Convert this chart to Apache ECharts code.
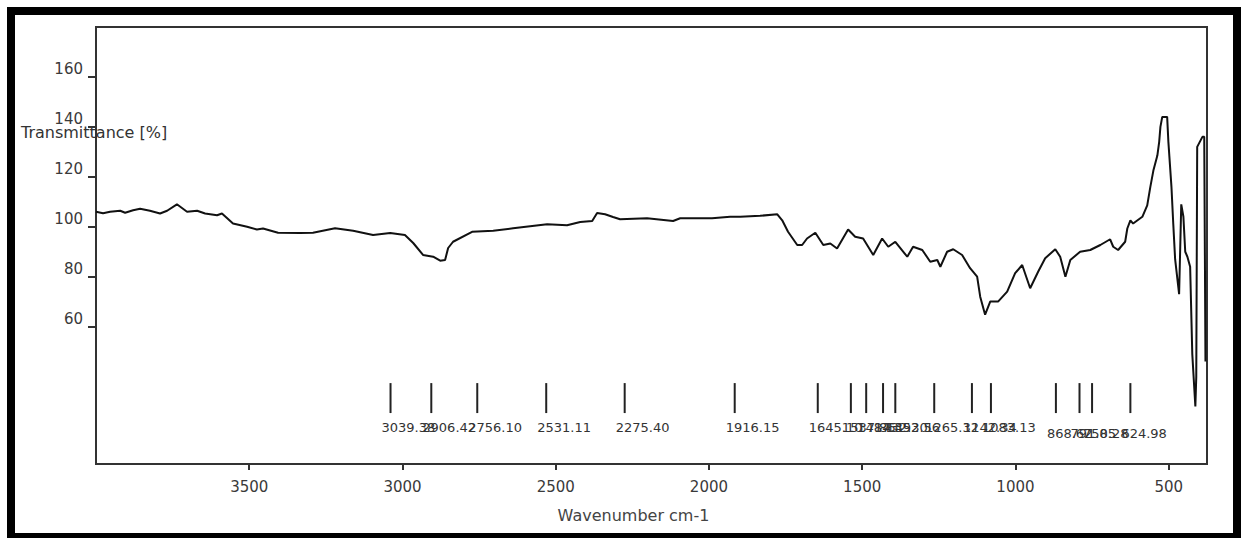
<!DOCTYPE html>
<html>
<head>
<meta charset="utf-8">
<script src="https://cdn.jsdelivr.net/npm/echarts@6/dist/echarts.min.js"></script>
<style>
  html, body { margin: 0; padding: 0; background: #fff; }
  #chart { width: 1241px; height: 538px; }
</style>
</head>
<body>
<div id="chart"></div>
<script>
// IR spectrum values (wavenumber in cm-1, transmittance in %)
const wavenumbers = [
  4000, 3977, 3954, 3921, 3905, 3879, 3856, 3824, 3791, 3768, 3736, 3703, 3670, 3644, 3605, 3589,
  3553, 3507, 3475, 3455, 3406, 3334, 3292, 3220, 3161, 3096, 3040, 2992, 2965, 2933, 2900, 2877,
  2861, 2851, 2835, 2773, 2704, 2639, 2528, 2463, 2420, 2381, 2365, 2339, 2313, 2290, 2202, 2117,
  2094, 1990, 1931, 1898, 1833, 1777, 1761, 1742, 1712, 1696, 1680, 1653, 1627, 1604, 1582, 1546,
  1523, 1497, 1464, 1435, 1415, 1392, 1353, 1334, 1304, 1278, 1255, 1245, 1223, 1203, 1174, 1148,
  1125, 1115, 1099, 1082, 1056, 1027, 1001, 978, 952, 926, 903, 870, 854, 837, 821, 789,
  756, 723, 691, 681, 665, 642, 635, 625, 616, 586, 570, 560, 550, 537, 531, 527,
  521, 511, 505, 501, 491, 485, 479, 466, 459, 452, 446, 439, 430, 423, 413, 410,
  407, 390, 384, 380
]
const transmittance = [
  106, 105.4, 106, 106.4, 105.6, 106.6, 107.2, 106.4, 105.3, 106.4, 109, 106, 106.4, 105.3, 104.6, 105.3,
  101.3, 100, 98.9, 99.3, 97.6, 97.5, 97.6, 99.4, 98.4, 96.7, 97.5, 96.7, 93.5, 88.7, 88, 86.4,
  86.7, 91.5, 94, 98, 98.4, 99.4, 101, 100.6, 101.9, 102.3, 105.5, 105, 103.9, 103, 103.4, 102.3,
  103.4, 103.4, 104, 104, 104.4, 105, 102.6, 98, 92.7, 92.7, 95.3, 97.6, 92.7, 93.3, 91.3, 98.9,
  96, 95.3, 88.7, 95.3, 92, 94, 88, 92, 90.7, 86, 86.7, 84, 90, 91, 88.7, 83.4,
  80, 72, 64.8, 70.1, 70.1, 74, 81.4, 84.7, 75.4, 82, 87.4, 91, 88, 80, 86.7, 90,
  90.7, 92.7, 95, 92, 90.7, 94, 99.3, 102.6, 101.3, 104, 108.6, 115.9, 122.5, 128.5, 134, 140,
  144, 144, 144, 134, 116, 101, 87, 73, 109, 104, 90, 88, 84, 49, 28, 40,
  132, 136, 136, 46
]

// picked peaks and their printed labels
const peakWavenumbers = [3039, 2906, 2756, 2531, 2275, 1916, 1645, 1537, 1487, 1432, 1392, 1265, 1142, 1080, 868, 791, 750, 625]
const peakLabels = [
  '3039.38', '2906.42', '2756.10', '2531.11', '2275.40', '1916.15',
  '1645.10', '1537.86', '1487.45', '1432.30', '1392.56', '1265.32', '1142.34', '1083.13',
  '868.62', '791.85', '750.28', '624.98'
]

const xTicks = [3500, 3000, 2500, 2000, 1500, 1000, 500]
const yTicks = [60, 80, 100, 120, 140, 160]

const chart = echarts.init(document.getElementById('chart'), null, { renderer: 'svg' })

const font = 'DejaVu Sans'
const markTop = 37.4
const markBottom = 25.4

chart.setOption({
  animation: false,
  backgroundColor: '#fff',
  grid: {
    left: 96,
    right: 34,
    top: 27,
    bottom: 74,
    show: true,
    borderColor: '#333',
    borderWidth: 2
  },
  xAxis: {
    type: 'value',
    inverse: true,
    min: 375,
    max: 4000,
    axisLine: { show: false },
    splitLine: { show: false },
    axisTick: { customValues: xTicks, length: 6, lineStyle: { color: '#333', width: 2 } },
    axisLabel: {
      customValues: xTicks,
      margin: 15,
      color: '#3a3a3a',
      fontSize: 15,
      fontFamily: font,
      formatter: v => String(v)
    },
    name: 'Wavenumber cm-1',
    nameLocation: 'middle',
    nameGap: 43,
    nameTextStyle: { color: '#444', fontSize: 16, fontFamily: font, padding: [0, 36, 0, 0] }
  },
  yAxis: {
    type: 'value',
    min: 5,
    max: 180,
    axisLine: { show: false },
    splitLine: { show: false },
    axisTick: { customValues: yTicks, length: 8, lineStyle: { color: '#333', width: 2 } },
    axisLabel: {
      customValues: yTicks,
      margin: 13,
      color: '#3a3a3a',
      fontSize: 15,
      fontFamily: font,
      verticalAlign: 'bottom'
    }
  },
  graphic: [
    {
      type: 'text',
      left: 21,
      top: 124,
      z: 10,
      style: { text: 'Transmittance [%]', fill: '#333', fontSize: 16, fontFamily: font }
    },
    {
      type: 'rect',
      z: 20,
      shape: { x: 11, y: 11, width: 1226, height: 526 },
      style: { fill: 'none', stroke: '#000', lineWidth: 8 }
    }
  ],
  series: [
    {
      type: 'line',
      data: wavenumbers.map((w, i) => [w, transmittance[i]]),
      showSymbol: false,
      lineStyle: { color: '#111', width: 2 },
      clip: false
    },
    {
      type: 'custom',
      data: peakWavenumbers.map(w => [w, markTop]),
      encode: { x: 0, y: 1 },
      clip: false,
      renderItem: function (params, api) {
        const v = api.value(0)
        const top = api.coord([v, markTop])
        const bottom = api.coord([v, markBottom])
        const lowRow = v < 900
        return {
          type: 'group',
          children: [
            {
              type: 'line',
              shape: { x1: top[0], y1: top[1], x2: bottom[0], y2: bottom[1] },
              style: { stroke: '#222', lineWidth: 2 }
            },
            {
              type: 'text',
              x: top[0] - 9,
              y: bottom[1] + (lowRow ? 14 : 8),
              style: {
                text: peakLabels[params.dataIndex],
                fill: '#333',
                fontSize: 13,
                fontFamily: font,
                align: 'left',
                verticalAlign: 'top'
              }
            }
          ]
        }
      }
    }
  ]
})
</script>
</body>
</html>
